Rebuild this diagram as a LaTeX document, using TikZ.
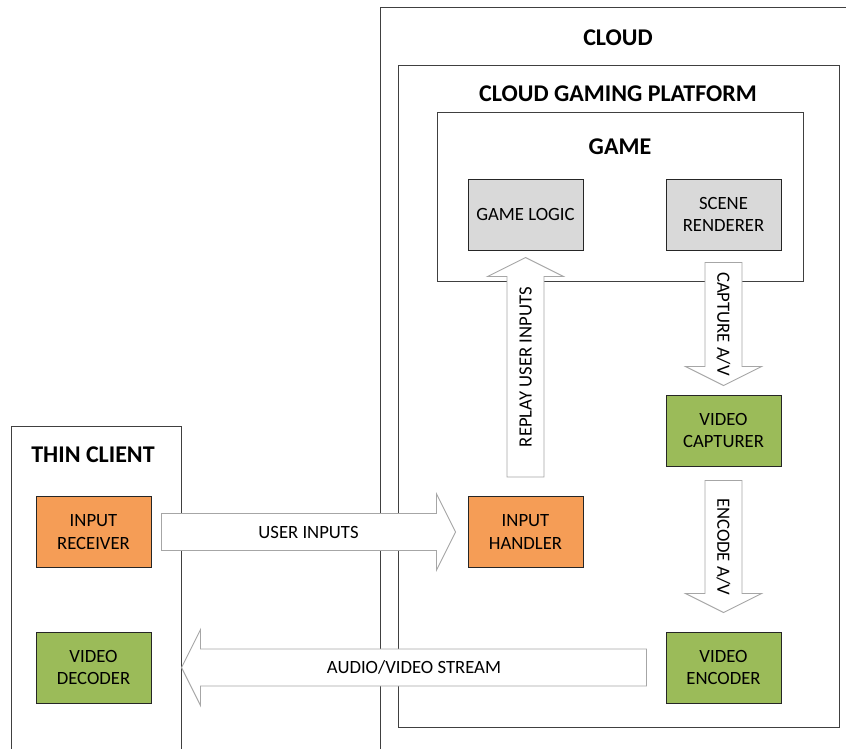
\documentclass[tikz,border=0pt]{standalone}
\usepackage{fontspec}
\setmainfont{Carlito}
\usetikzlibrary{calc}
\definecolor{orangebox}{HTML}{F59D56}
\definecolor{greenbox}{HTML}{9BBB59}
\definecolor{graybox}{HTML}{D9D9D9}
\definecolor{framecol}{HTML}{404040}
\definecolor{arrowcol}{HTML}{A6A6A6}
\newcommand\blockarrow[2]{%
  \coordinate (hb) at ($(#2)!19pt!(#1)$);
  \draw[barrow] ($(#1)!18.5pt!90:(#2)$) -- ($(hb)!18.5pt!90:(#2)$) -- ($(hb)!38pt!90:(#2)$) -- (#2)
    -- ($(hb)!38pt!-90:(#2)$) -- ($(hb)!18.5pt!-90:(#2)$) -- ($(#1)!18.5pt!-90:(#2)$) -- cycle;}
\begin{document}
\begin{tikzpicture}[x=1pt,y=-1pt,
  every node/.style={font=\fontsize{18.7}{22.8}\selectfont, text=black},
  frame/.style={draw=framecol, line width=1pt},
  title/.style={font=\fontsize{24}{28}\selectfont\bfseries},
  blk/.style={draw=black!85, line width=1pt, minimum width=115pt, minimum height=71pt, align=center, inner sep=0pt},
  barrow/.style={draw=arrowcol, fill=white, line width=0.9pt, line join=miter},
  alabel/.style={inner sep=0pt}]
\clip (0,0) rectangle (846,749);
% outer frames
\draw[frame] (11,760) -- (11,426) -- (181,426) -- (181,760);
\draw[frame] (380,760) -- (380,8) -- (860,8);
\draw[frame] (398,66) rectangle (839,727);
\draw[frame] (437,113) rectangle (803,281);
\node[title] (tcl) at (93,455) {THIN CLIENT};
\node[title] (tcloud) at (618,38) {CLOUD};
\node[title] (tcgp) at (618,94) {CLOUD GAMING PLATFORM};
\node[title] (tgame) at (620,147) {GAME};
% blocks
\node[blk, fill=orangebox] (ir) at (93.5,532) {INPUT\\RECEIVER};
\node[blk, fill=greenbox] (vd) at (93.5,667.5) {VIDEO\\DECODER};
\node[blk, fill=graybox] (gl) at (525.5,214.5) {GAME LOGIC};
\node[blk, fill=graybox] (sr) at (723.5,214.5) {SCENE\\RENDERER};
\node[blk, fill=greenbox] (vc) at (723.5,430.5) {VIDEO\\CAPTURER};
\node[blk, fill=orangebox] (ih) at (525.5,532) {INPUT\\HANDLER};
\node[blk, fill=greenbox] (ve) at (723.5,667.5) {VIDEO\\ENCODER};
% block arrows
\coordinate (u1) at ($(ir.east)+(10,0)$);
\coordinate (u2) at ($(ih.west)+(-12,0)$);
\blockarrow{u1}{u2}
\node[alabel] at ($(u1)!0.5!(u2)$) {USER INPUTS};
\coordinate (r1) at ($(ih.north)+(0,-19)$);
\coordinate (r2) at ($(gl.south)+(0,7)$);
\blockarrow{r1}{r2}
\node[alabel, rotate=90] at ($(r1)!0.5!(r2)$) {REPLAY USER INPUTS};
\coordinate (c1) at ($(sr.south)+(0,12)$);
\coordinate (c2) at ($(vc.north)+(0,-9)$);
\blockarrow{c1}{c2}
\node[alabel, rotate=-90] at ($(c1)!0.5!(c2)$) {CAPTURE A/V};
\coordinate (e1) at ($(vc.south)+(0,14)$);
\coordinate (e2) at ($(ve.north)+(0,-19)$);
\blockarrow{e1}{e2}
\node[alabel, rotate=-90] at ($(e1)!0.5!(e2)$) {ENCODE A/V};
\coordinate (a1) at ($(ve.west)+(-19,0)$);
\coordinate (a2) at ($(vd.east)+(30,0)$);
\blockarrow{a1}{a2}
\node[alabel] at ($(a1)!0.5!(a2)$) {AUDIO/VIDEO STREAM};
\end{tikzpicture}
\end{document}
